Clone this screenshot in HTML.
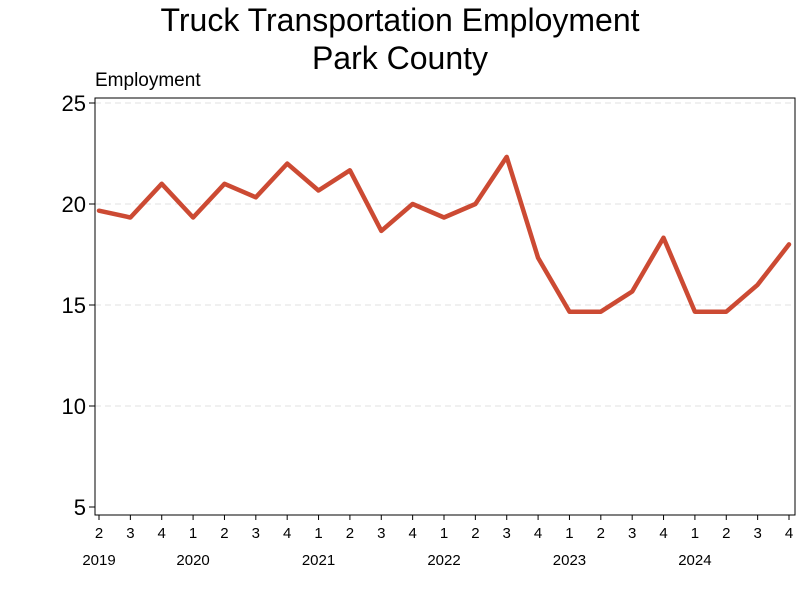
<!DOCTYPE html>
<html><head><meta charset="utf-8"><style>
html,body{margin:0;padding:0;background:#fff;}
svg{display:block;font-family:"Liberation Sans",sans-serif;}
</style></head><body>
<svg id="chart" width="800" height="600">
<text x="400" y="31" text-anchor="middle" font-size="32" fill="#000">Truck Transportation Employment</text>
<text x="400" y="69" text-anchor="middle" font-size="32" fill="#000">Park County</text>
<text x="95" y="86" font-size="19" fill="#000">Employment</text>
<g id="grid"></g>
<rect x="95" y="98" width="700" height="417" fill="none" stroke="#000" stroke-width="1"/>
<g id="yaxis"></g>
<g id="xaxis"></g>
<g id="series"></g>
</svg>
<script>
const quarters = ["2","3","4","1","2","3","4","1","2","3","4","1","2","3","4","1","2","3","4","1","2","3","4"];
const years = ["2019","2020","2021","2022","2023","2024"];
const yearIndex = [0,3,7,11,15,19];
const values = [19.67,19.33,21,19.33,21,20.33,22,20.67,21.67,18.67,20,19.33,20,22.33,17.33,14.67,14.67,15.67,18.33,14.67,14.67,16,18];
const yTicks = [5,10,15,20,25];
const gridVals = [10,15,20,25];

const NS="http://www.w3.org/2000/svg";
function xS(i){return 99+i*(789-99)/(quarters.length-1);}
function yS(v){return 103+(25-v)*20.2;}
function mk(tag,attrs,parent){const e=document.createElementNS(NS,tag);for(const k in attrs)e.setAttribute(k,attrs[k]);parent.appendChild(e);return e;}
const grid=document.getElementById('grid'),ya=document.getElementById('yaxis'),xa=document.getElementById('xaxis'),ser=document.getElementById('series');
gridVals.forEach(v=>{
  const l=mk('line',{x1:95,x2:795,y1:yS(v),y2:yS(v),stroke:'#e0e0e0','stroke-dasharray':'6,4'},grid);
  
  
});
yTicks.forEach(v=>{
  const t=mk('line',{x1:89,x2:95,y1:yS(v),y2:yS(v),stroke:'#000'},ya);
  
  
  const tx=mk('text',{x:86,y:yS(v)+8,'text-anchor':'end','font-size':22,fill:'#000'},ya);
  tx.textContent=v;
  
  
});
quarters.forEach((q,i)=>{
  const t=mk('line',{x1:xS(i),x2:xS(i),y1:515,y2:520,stroke:'#000'},xa);
  
  
  const tx=mk('text',{x:xS(i),y:538,'text-anchor':'middle','font-size':15,fill:'#000'},xa);
  tx.textContent=q;
  
  
});
years.forEach((y,k)=>{
  const tx=mk('text',{x:xS(yearIndex[k]),y:565,'text-anchor':'middle','font-size':15,fill:'#000'},xa);
  tx.textContent=y;
  
  
});
const pts=values.map((v,i)=>xS(i).toFixed(1)+','+yS(v).toFixed(1)).join(' ');
const pl=mk('polyline',{points:pts,fill:'none',stroke:'#cc4a33','stroke-width':4.5,'stroke-linejoin':'round','stroke-linecap':'round'},ser);


</script>
</body></html>
